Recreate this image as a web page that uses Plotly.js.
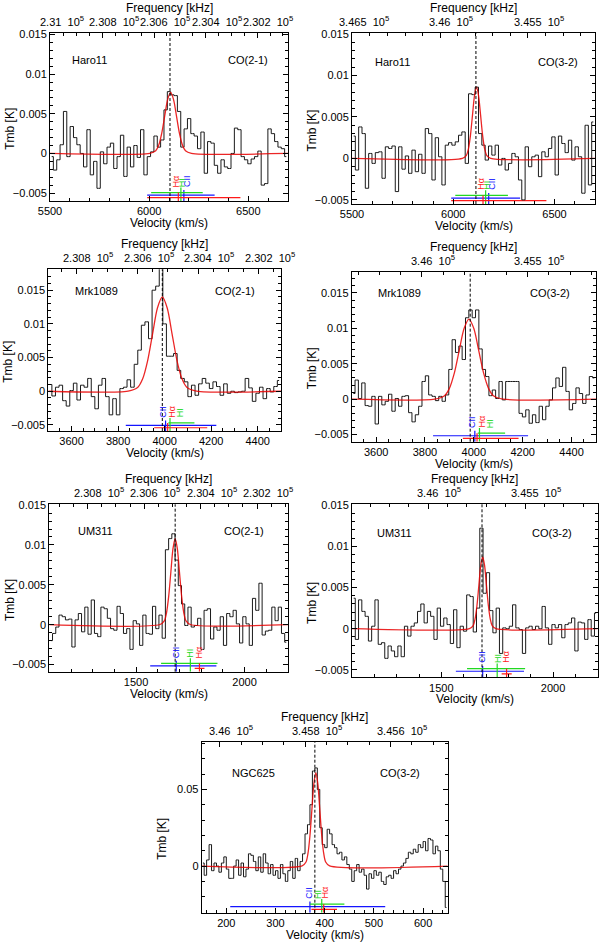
<!DOCTYPE html>
<html><head><meta charset="utf-8">
<script src="https://cdn.plot.ly/plotly-3.0.1.min.js"></script>
<style>html,body{margin:0;padding:0;background:#fff}#chart{width:600px;height:945px}</style>
</head><body><div id="chart"></div>
<script>
// ---------------- DATA ----------------
const panelGalaxy = ['Haro11','Haro11','Mrk1089','Mrk1089','UM311','UM311','NGC625'];
const panelLine = ['CO(2-1)','CO(3-2)','CO(2-1)','CO(3-2)','CO(2-1)','CO(3-2)','CO(3-2)'];
const restFreq = [230538, 345796, 230538, 345796, 230538, 345796, 345796];
const freqRefVel = [6105, 6112, 3964, 3964, 1618, 1618, 364];
const systemicVel = [6105, 6112, 3990, 3985, 1680, 1682, 380];
const velRange = [[5500,6700],[5500,6700],[3500,4500],[3500,4500],[1100,2200],[1100,2200],[150,650]];
const tmbRange = [[-0.0060,0.0152],[-0.0055,0.0151],[-0.0059,0.0181],[-0.0060,0.0180],[-0.0059,0.0151],[-0.0059,0.0151],[-0.0304,0.0811]];
const chanStart = [5508.5, 5508.2, 3507.7, 3506.8, 1107.4, 1107.3, 152.5];
const chanWidth = [16.9, 16.44, 15.38, 13.7, 14.86, 14.67, 5];

const specHaro11CO21 = [-0.0004,-0.0021,-0.0008,0.0011,0.0053,-0.0004,0.0034,0.002,0.0011,0,
 -0.0017,0.003,-0.0027,-0.001,-0.0044,0.0002,-0.0013,0.0008,0.0013,-0.0019,
 -0.0004,0.0023,-0.0029,0.0008,-0.0017,0.001,-0.0005,0.003,-0.0027,-0.0004,
 0.0002,0.0022,0.0008,0.0017,0.0055,0.0078,0.0074,0.0073,0.0053,0.0008,
 0.0031,0.0044,0.0025,0.0022,0.0006,0.0027,-0.0025,0.0015,0.0013,-0.0015,
 -0.0025,-0.0008,-0.0017,-0.0019,0,0.0032,0.003,-0.0004,-0.0008,-0.0013,
 -0.0007,-0.0004,0.0003,-0.004,-0.0038,0.0031,0.0025,0.0015,0.0008,0.0006,-0.0004];
const specHaro11CO32 = [0.0027,-0.0014,0.0038,0.003,-0.0036,0.0006,-0.0006,0.0007,0.0008,-0.0024,
 0.0014,0.0012,0.0015,-0.004,0.0014,-0.0013,0.0003,-0.0018,0.001,-0.0016,
 0.0005,-0.0018,0.0036,0.003,-0.0026,0.0025,0.0002,-0.0032,0.0016,0.0019,
 0.0016,0.002,0.0028,0.0032,-0.0006,0.0078,0.0077,0.0086,0.003,0.0016,
 -0.0002,0.0015,0.0004,0.0016,-0.0008,0,-0.0014,-0.0006,0.0006,0.0002,
 -0.0026,-0.005,0.0014,-0.001,0.0002,0.0004,-0.0022,0.0008,0.0002,0.0012,
 0.0026,-0.002,0.0027,0.0018,0.0007,0.0022,-0.0002,0.0014,0.0002,-0.0042,
 0.004,-0.0032,0.0044];
const specMrk1089CO21 = [0.001,-0.0007,0.0006,0.0009,-0.0014,-0.0022,0.0001,0.0012,-0.0013,0.0009,
 0.0006,0.0019,-0.0008,-0.0026,0.0009,0.0019,-0.0008,-0.0035,-0.0011,-0.0035,
 0.0004,0.0006,0.0017,0.0006,0.004,0.0061,0.0098,0.0103,0.0078,0.015,
 0.0156,0.019,0.01,0.0052,0.0052,0.0056,0.0031,0.0019,0.0014,-0.0008,
 0.0009,-0.0006,0.0011,0.0019,0.0012,0.0004,0.0014,0.0007,-0.0006,0.0011,
 -0.0003,0,-0.0002,-0.0001,0,0.0019,0.0005,-0.0015,-0.0003,0.0006,
 -0.0011,0.0004,-0.0001,0.0007,0.0016];
const specMrk1089CO32 = [0.0008,0.0027,0.0001,0.0023,-0.0009,-0.001,0.0004,-0.0035,0.0004,-0.0008,
 -0.0003,0.0007,-0.0017,0.0001,-0.001,0.0004,0.0005,-0.0019,-0.0032,-0.0022,
 -0.001,0.0025,0.0033,0.0006,0.0004,-0.0002,0.0004,-0.0003,0.0006,0.0042,
 0.0084,0.0066,0.0075,0.0056,0.0115,0.0126,0.0115,0.0126,0.0071,0.0042,
 0.0032,0.0005,0.0013,0.0001,0.0025,-0.0001,0.0025,0.0025,0.0025,0.0025,
 -0.002,-0.0025,-0.0015,-0.0034,-0.0022,-0.0033,-0.001,-0.0029,-0.001,-0.0001,
 0.0016,0.003,0.0018,0.0045,0.0011,-0.0015,-0.0006,0.0016,0.0008,-0.0006,
 0.0006,0.0032,0.003];
const specUM311CO21 = [-0.002,-0.0011,-0.0003,0.0012,0.001,0.0006,0.0007,-0.0028,0.0006,0.0014,
 -0.0009,0.0022,-0.0012,0.0031,-0.0011,-0.0015,0.0022,0.002,0.0008,-0.0005,
 -0.0007,0.0023,0.0014,-0.0011,-0.0005,-0.0031,0.0005,0.0001,-0.0026,0.0012,
 -0.0011,-0.0012,0.0023,-0.0005,0.0012,-0.0017,0.0094,0.0108,0.0114,0.0081,
 0.0049,0.0026,-0.0001,0.0022,-0.0003,-0.0001,0.0008,-0.0031,0.0018,0.002,
 -0.0018,-0.0003,-0.0007,0.001,-0.0026,0.0014,0.001,0.0018,0.0001,-0.0023,
 0.001,0.0001,-0.0026,0.0033,0.0018,0.0052,-0.0013,-0.0008,-0.0007,0.0022,
 0.0005,0.0022,-0.0011,-0.0022];
const specUM311CO32 = [0.0037,-0.0013,0.0035,0.0021,0.0015,-0.0015,0.0003,0.0035,-0.0019,-0.0017,
 -0.0036,-0.0021,-0.0027,-0.0034,-0.0021,-0.0034,0.0003,-0.0009,0.0003,0.0007,
 0.0021,0.003,0.0007,0.0021,0.0015,-0.0013,0.0025,0.0003,0.0013,0.0005,
 -0.0018,0.0023,-0.0023,0.0003,-0.0003,0.0041,0.0039,-0.0004,0.0025,0.0122,
 0.0043,0.0068,0.0022,-0.0005,0.0025,-0.003,0.0001,0,0.0003,0.0029,
 0.0001,-0.0001,-0.003,0.0001,0.0003,-0.0001,0.0003,0,0.0027,0.0001,
 -0.0019,0.0005,0.0001,0.0005,-0.0011,0.0005,0.0007,0.0013,-0.0027,0.0008,
 0.0007,-0.0013,0.0011,-0.0009,0.0019];
const specNGC625CO32 = [0.002,-0.006,0.004,0.014,-0.003,0.002,0.0,-0.004,0.002,0.006,
 -0.002,-0.008,-0.008,0.0,0.004,-0.006,0.002,-0.007,-0.002,0.008,
 0.007,0.003,-0.003,0.006,-0.004,0.008,0.002,-0.005,0.001,-0.006,
 -0.003,-0.008,0.001,-0.005,-0.010,-0.003,0.003,-0.008,0.005,-0.003,
 0.003,0.008,0.021,0.027,0.040,0.062,0.064,0.050,0.025,0.014,
 0.012,0.024,0.021,0.014,0.012,0.008,0.009,0.004,0.006,0.001,
 -0.002,-0.010,-0.003,0.001,-0.004,-0.002,-0.006,-0.015,-0.005,-0.008,
 -0.003,-0.006,-0.004,-0.010,-0.012,-0.007,-0.006,-0.008,-0.003,-0.005,
 -0.002,0.000,0.002,0.005,0.009,0.008,0.011,0.009,0.014,0.012,
 0.016,0.010,0.018,0.017,0.008,0.013,0.010,-0.002,-0.010,-0.027];
const spectra = [specHaro11CO21, specHaro11CO32, specMrk1089CO21, specMrk1089CO32, specUM311CO21, specUM311CO32, specNGC625CO32];

// Gaussian fits
const fitVelHaro11CO21 = [5500,6003,6033,6048,6063,6078,6093,6108,6123,6138,6153,6168,6183,6213,6700];
const fitTmbHaro11CO21 = [0,0.00002,0.00034,0.00104,0.0025,0.00467,0.0068,0.0077,0.0068,0.00467,0.0025,0.00104,0.00034,0.00002,0];
const fitVelHaro11CO32 = [5500,6045,6065,6075,6085,6095,6105,6115,6125,6135,6145,6155,6165,6185,6700];
const fitTmbHaro11CO32 = [0,0.00002,0.00038,0.00116,0.00279,0.00522,0.00759,0.0086,0.00759,0.00522,0.00279,0.00116,0.00038,0.00002,0];
const fitVelMrk1089CO21 = [3500,3843,3885,3906,3927,3948,3969,3990,4011,4032,4053,4074,4095,4137,4500];
const fitTmbMrk1089CO21 = [0,0.00003,0.00061,0.00189,0.00455,0.00849,0.01236,0.014,0.01236,0.00849,0.00455,0.00189,0.00061,0.00003,0];
const fitVelMrk1089CO32 = [3500,3840,3880,3900,3920,3940,3960,3980,4000,4020,4040,4060,4080,4120,4500];
const fitTmbMrk1089CO32 = [0,0.00002,0.0005,0.00153,0.00367,0.00685,0.00997,0.0113,0.00997,0.00685,0.00367,0.00153,0.0005,0.00002,0];
const fitVelUM311CO21 = [1100,1610,1630,1640,1650,1660,1670,1680,1690,1700,1710,1720,1730,1750,2200];
const fitTmbUM311CO21 = [0,0.00002,0.00047,0.00146,0.00351,0.00655,0.00953,0.0108,0.00953,0.00655,0.00351,0.00146,0.00047,0.00002,0];
const fitVelUM311CO32 = [1100,1625.5,1642.5,1651,1659.5,1668,1676.5,1685,1693.5,1702,1710.5,1719,1727.5,1744.5,2200];
const fitTmbUM311CO32 = [0,0.00002,0.00038,0.00118,0.00282,0.00528,0.00768,0.0087,0.00768,0.00528,0.00282,0.00118,0.00038,0.00002,0];
const fitVelNGC625CO32 = [150,354,362,366,370,374,378,382,386,390,394,398,402,410,650];
const fitTmbNGC625CO32 = [0,0.00013,0.00268,0.00825,0.0198,0.037,0.0538,0.061,0.0538,0.037,0.0198,0.00825,0.00268,0.00013,0];
const fitVel = [fitVelHaro11CO21, fitVelHaro11CO32, fitVelMrk1089CO21, fitVelMrk1089CO32, fitVelUM311CO21, fitVelUM311CO32, fitVelNGC625CO32];
const fitTmb = [fitTmbHaro11CO21, fitTmbHaro11CO32, fitTmbMrk1089CO21, fitTmbMrk1089CO32, fitTmbUM311CO21, fitTmbUM311CO32, fitTmbNGC625CO32];

// frequency tick labels (top axis)
const freqTicks = [[231000,230800,230600,230400,230200],[346500,346000,345500],[230800,230600,230400,230200],[346000,345500],[230800,230600,230400,230200],[346000,345500],[346000,345800,345600]];
const freqTickLabels = [['2.31','2.308','2.306','2.304','2.302'],['3.465','3.46','3.455'],['2.308','2.306','2.304','2.302'],['3.46','3.455'],['2.308','2.306','2.304','2.302'],['3.46','3.455'],['3.46','3.458','3.456']];

// other tracers (velocity markers), order: CII, HI, Halpha
const galaxies = ['Haro11','Mrk1089','UM311','NGC625'];
const tracerNames = ['CII','HI','H\u03b1'];
const tracerCentre = [[6175,6160,6147],[4004,4023,4013],[1685,1750,1792],[370,394,398]];
const tracerLow = [[5990,6010,5990],[3833,4016,3955],[1565,1615,1770],[208,370,373]];
const tracerHigh = [[6330,6270,6460],[4222,4128,4183],[1870,1875,1815],[523,440,425]];
const tracerLabelVel = [[6190,6163,6136],[3993,4066,4032],[1685,1750,1792],[368,386,400]];

// ---------------- LAYOUT / STYLE ----------------
const boxPx = [[50,288,33,201],[352,595,33.3,204],[48.3,281,269.3,431],[351.7,596,271.7,441.7],[49.3,288,504.3,671.7],[352,597.7,504.3,677.3],[201.7,447.7,741.7,912.7]];
const velDtick = [500,500,200,200,500,500,100];
const velMinor = [100,100,50,50,100,100,20];
const tmbDtick = [0.005,0.005,0.005,0.005,0.005,0.005,0.05];
const tmbMinor = [0.001,0.001,0.001,0.001,0.001,0.001,0.01];
const freqMinor = [50,100,50,100,50,100,50];
const namePos = [[0.085,0.84],[0.086,0.834],[0.106,0.866],[0.10,0.873],[0.11,0.84],[0.095,0.836],[0.115,0.817]];
const linePos = [0.925,0.94,0.895,0.90,0.908,0.905,0.895];
const tracerColor = ['#1414ff','#22d822','#ff1a1a'];
const tracerLevel = [0.035,0.05,0.02];
const W = 600, H = 945, CKMS = 299792.458;
const FONT = 'Liberation Sans, Arial, sans-serif';
const NB = '\u00a0';
const TICKFS = 11;

// approximate half-width of a numeric mantissa (Liberation Sans metrics)
function halfWidth(s) {
  let w = 0;
  for (const ch of s) w += (ch === '.') ? 0.278 : 0.556;
  return w * TICKFS / 2;
}

const traces = [], annotations = [], shapes = [];
const layout = {width:W, height:H, margin:{l:0,r:0,t:0,b:0}, showlegend:false,
  paper_bgcolor:'#fff', plot_bgcolor:'#fff', font:{family:FONT, size:11, color:'#000'}};

for (let i = 0; i < 7; i++) {
  const xb = 'x' + (2*i+1), xt = 'x' + (2*i+2), ya = 'y' + (i+1);
  const xbKey = 'xaxis' + (2*i+1), xtKey = 'xaxis' + (2*i+2), yKey = 'yaxis' + (i+1);
  const b = boxPx[i];
  const vr = velRange[i], tr = tmbRange[i];
  const gi = galaxies.indexOf(panelGalaxy[i]);
  const f0 = restFreq[i], vref = freqRefVel[i];
  const fL = f0 * (1 - (vr[0] - vref) / CKMS), fR = f0 * (1 - (vr[1] - vref) / CKMS);

  layout[xbKey] = {domain:[b[0]/W, b[1]/W], range:vr, anchor:ya, showgrid:false, zeroline:false,
    showline:true, linecolor:'#000', linewidth:1, mirror:false, ticks:'inside', ticklen:5, tickwidth:1, tickcolor:'#000',
    tick0:0, dtick:velDtick[i], tickangle:0, tickfont:{size:TICKFS},
    minor:{dtick:velMinor[i], ticks:'inside', ticklen:3, tickwidth:1, tickcolor:'#000', showgrid:false}};
  layout[xtKey] = {overlaying:xb, side:'top', anchor:ya, range:[fL,fR], showgrid:false, zeroline:false,
    showline:true, linecolor:'#000', linewidth:1, ticks:'inside', ticklen:5, tickwidth:1, tickcolor:'#000',
    tickmode:'array', tickvals:freqTicks[i], showticklabels:false,
    minor:{dtick:freqMinor[i], ticks:'inside', ticklen:3, tickwidth:1, tickcolor:'#000', showgrid:false}};
  layout[yKey] = {domain:[1 - b[3]/H, 1 - b[2]/H], range:tr, anchor:xb, showgrid:false, zeroline:false,
    showline:true, linecolor:'#000', linewidth:1, mirror:'ticks', ticks:'inside', ticklen:5, tickwidth:1, tickcolor:'#000',
    tick0:0, dtick:tmbDtick[i], tickangle:0, tickfont:{size:TICKFS},
    minor:{dtick:tmbMinor[i], ticks:'inside', ticklen:3, tickwidth:1, tickcolor:'#000', showgrid:false}};

  // dummy trace for the top axis
  traces.push({x:[fL,fR], y:[null,null], xaxis:xt, yaxis:ya, mode:'lines', hoverinfo:'skip', showlegend:false});

  // top-axis tick labels: mantissa centred on the tick, "10^5" trailing (IDL style)
  freqTicks[i].forEach((fv, j) => {
    const m = freqTickLabels[i][j];
    annotations.push({xref:xt, yref:ya + ' domain', x:fv, y:1, yshift:12, xanchor:'left', yanchor:'middle',
      xshift:-(halfWidth(m) + 1), borderpad:0,
      text:m + NB + NB + '10<sup>5</sup>', showarrow:false, font:{size:TICKFS}});
  });

  // tracer markers
  for (let k = 0; k < 3; k++) {
    const lev = tr[0] + tracerLevel[k] * (tr[1] - tr[0]);
    const top = tr[0] + (tracerLevel[k] + 0.03) * (tr[1] - tr[0]);
    traces.push({x:[tracerLow[gi][k], tracerHigh[gi][k], null, tracerCentre[gi][k], tracerCentre[gi][k]],
      y:[lev, lev, null, tr[0], top], xaxis:xb, yaxis:ya, mode:'lines',
      line:{color:tracerColor[k], width:1.2}, hoverinfo:'skip'});
    annotations.push({xref:xb, yref:ya + ' domain', x:tracerLabelVel[gi][k], y:0.07, yanchor:'bottom', xanchor:'center',
      text:tracerNames[k], textangle:-90, showarrow:false, font:{size:9, color:tracerColor[k]}});
  }

  // spectrum
  traces.push({y:spectra[i], x0:chanStart[i], dx:chanWidth[i], xaxis:xb, yaxis:ya, mode:'lines',
    line:{shape:'hvh', color:'#1a1a1a', width:1}, hoverinfo:'skip'});
  // fit
  traces.push({x:fitVel[i], y:fitTmb[i], xaxis:xb, yaxis:ya, mode:'lines',
    line:{shape:'spline', smoothing:0.8, color:'rgba(232,0,0,0.85)', width:1.3}, hoverinfo:'skip'});

  // dashed systemic velocity line
  shapes.push({type:'line', xref:xb, yref:ya + ' domain', x0:systemicVel[i], x1:systemicVel[i], y0:0, y1:1,
    line:{color:'#000', width:1, dash:'3px,2px'}});

  // labels
  annotations.push({xref:xb + ' domain', yref:ya + ' domain', x:namePos[i][0], y:namePos[i][1], xanchor:'left', yanchor:'middle',
    text:panelGalaxy[i], showarrow:false, font:{size:11}});
  annotations.push({xref:xb + ' domain', yref:ya + ' domain', x:linePos[i], y:namePos[i][1], xanchor:'right', yanchor:'middle',
    text:panelLine[i], showarrow:false, font:{size:11}});
  // axis titles
  annotations.push({xref:xb + ' domain', yref:ya + ' domain', x:0.5, y:0, yshift:-22, xanchor:'center', yanchor:'middle',
    text:'Velocity (km/s)', showarrow:false, font:{size:12}});
  annotations.push({xref:xb + ' domain', yref:ya + ' domain', x:0.5, y:1, yshift:25, xanchor:'center', yanchor:'middle',
    text:'Frequency [kHz]', showarrow:false, font:{size:12}});
  annotations.push({xref:xb + ' domain', yref:ya + ' domain', x:0, xshift:-40, y:0.43, xanchor:'center', yanchor:'middle',
    text:'Tmb [K]', textangle:-90, showarrow:false, font:{size:12}});
}
layout.annotations = annotations;
layout.shapes = shapes;
Plotly.newPlot('chart', traces, layout, {displayModeBar:false, staticPlot:true});
</script>
</body></html>
